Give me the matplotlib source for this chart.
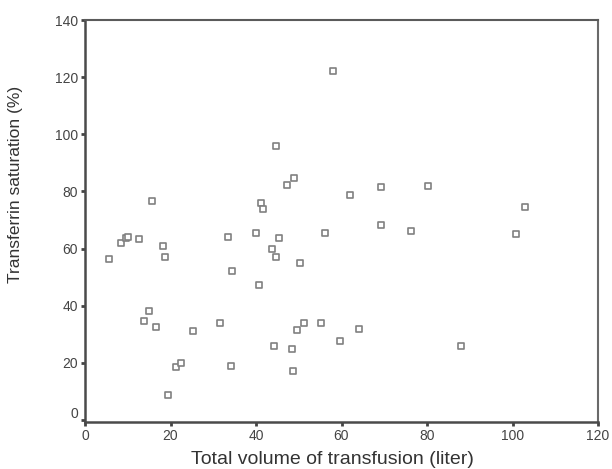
import matplotlib
matplotlib.use("Agg")
import matplotlib.pyplot as plt
import matplotlib.transforms as mtransforms

plt.rcParams['font.family'] = ['Liberation Sans', 'DejaVu Sans']

volume = [5.7, 8.5, 9.7, 10.1, 12.6, 15.7, 18.2, 18.8, 13.8, 15.0, 16.6, 25.3,
          21.3, 22.5, 19.4, 31.6, 33.5, 34.4, 34.1, 40.0, 41.2, 41.6, 40.6,
          43.7, 44.7, 45.3, 44.7, 47.2, 49.0, 50.3, 44.1, 48.4, 48.7, 49.7,
          51.2, 55.3, 56.2, 58.1, 59.6, 62.1, 64.0, 69.3, 69.3, 76.2, 80.2,
          88.0, 100.8, 103.0]
saturation = [56.3, 61.9, 63.7, 64.0, 63.3, 76.8, 60.9, 57.2, 34.8, 38.1, 32.5, 31.1,
              18.5, 19.9, 8.7, 33.9, 64.2, 52.1, 18.9, 65.6, 75.9, 74.0, 47.4,
              60.0, 57.2, 63.7, 96.0, 82.4, 84.8, 54.9, 25.9, 25.0, 17.0, 31.5,
              33.9, 33.9, 65.6, 122.1, 27.8, 78.7, 32.0, 81.5, 68.4, 66.1, 82.0,
              25.9, 65.1, 74.5]
xticks = [0, 20, 40, 60, 80, 100, 120]
yticks = [0, 20, 40, 60, 80, 100, 120, 140]

fig = plt.figure(figsize=(6.12, 4.69), dpi=100)
ax = fig.add_axes([85/612, 1 - 422/469, (598 - 85)/612, (422 - 20)/469])

ax.scatter(volume, saturation, marker='s', s=14, facecolors='white',
           edgecolors='#808080', linewidths=1.2, zorder=3)

ax.set_xlim(0, 120)
ax.set_ylim(-0.7, 140)
ax.set_xticks(xticks)
ax.set_yticks(yticks)
ax.tick_params(direction='out', length=3, width=2, color='#444444',
               labelsize=10, labelcolor='#444444', pad=2)

for side in ['left', 'bottom']:
    ax.spines[side].set_color('#4a4a4a')
    ax.spines[side].set_linewidth(1.8)
ax.spines['top'].set_color('#5a5a5a')
ax.spines['top'].set_linewidth(1.5)
ax.spines['right'].set_color('#6a6a6a')
ax.spines['right'].set_linewidth(1.5)

ax.set_xlabel('Total volume of transfusion (liter)', fontsize=14, color='#333333')
ax.xaxis.set_label_coords(0.482, -0.072)
ax.set_ylabel('Transferrin saturation (%)', fontsize=12.5, color='#333333')
ax.yaxis.set_label_coords(-0.12, 0.59)

# the "0" label of the y-axis sits slightly above the axis line
lbl = ax.get_yticklabels()[0]
lbl.set_transform(lbl.get_transform() + mtransforms.ScaledTranslation(0, 8/100, fig.dpi_scale_trans))

fig.savefig('out.png', dpi=100, facecolor='white')
